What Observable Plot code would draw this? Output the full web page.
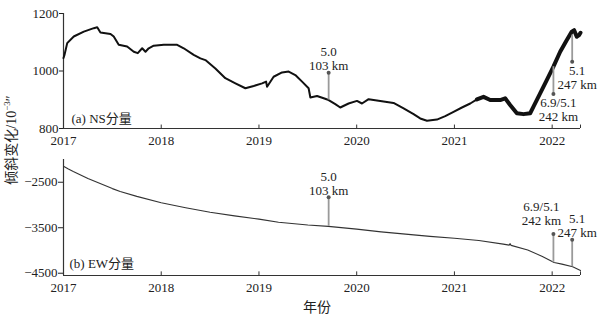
<!DOCTYPE html>
<html><head><meta charset="utf-8">
<script src="https://cdn.jsdelivr.net/npm/d3@7"></script>
<script src="https://cdn.jsdelivr.net/npm/@observablehq/plot@0.6"></script>
<style>
body{margin:0;background:#fff;}
#chart{position:relative;width:604px;height:317px;font-family:"Liberation Serif","Noto Sans CJK SC",serif;color:#222;}
#top,#bottom{position:absolute;left:0;}
#top{top:0;}
#bottom{top:145px;}
#ylab{position:absolute;left:-48px;top:131px;width:120px;height:18px;line-height:18px;text-align:center;font-size:14px;transform:rotate(-90deg);white-space:nowrap;}
#ylab sup{font-size:9px;line-height:0;vertical-align:6px;}
#xlab{position:absolute;left:287px;top:299px;width:60px;text-align:center;font-size:14px;line-height:18px;}
</style></head><body>
<div id="chart"><div id="top"></div><div id="bottom"></div>
<div id="ylab">倾斜变化/10<sup>−3</sup>″</div>
<div id="xlab">年份</div></div>
<script>
// ---- data ----
const xTicks = [2017, 2018, 2019, 2020, 2021, 2022];
const nsTicks = [800, 1000, 1200];
const ewTicks = [-2500, -3500, -4500];
const panelLabels = ["(a) NS分量", "(b) EW分量"];

const nsYear = [2017.0,2017.01,2017.038,2017.105,2017.208,2017.31,2017.345,2017.378,2017.481,2017.514,2017.565,2017.651,2017.719,2017.76,2017.805,2017.839,2017.872,2017.923,2018.026,2018.163,2018.23,2018.332,2018.401,2018.452,2018.554,2018.656,2018.759,2018.861,2018.946,2019.032,2019.073,2019.083,2019.15,2019.236,2019.304,2019.372,2019.441,2019.508,2019.526,2019.594,2019.662,2019.713,2019.781,2019.832,2019.917,2020.003,2020.054,2020.122,2020.241,2020.377,2020.48,2020.582,2020.65,2020.719,2020.821,2020.906,2020.991,2021.077,2021.162,2021.23,2021.298,2021.366,2021.468,2021.519,2021.57,2021.639,2021.707,2021.775,2021.809,2021.877,2021.946,2022.013,2022.082,2022.15,2022.201,2022.225,2022.252,2022.275,2022.29];
const nsValue = [1045,1056,1097,1120,1137,1149,1152,1134,1129,1120,1091,1085,1067,1062,1079,1067,1079,1088,1091,1091,1079,1056,1044,1038,1009,975,957,940,948,957,963,945,980,995,998,986,963,940,908,913,905,899,885,873,887,896,887,902,896,889,870,850,835,827,831,843,858,873,887,901,910,899,899,905,882,853,850,853,876,922,969,1015,1067,1108,1137,1142,1119,1125,1133];

const ewYear = [2017.0,2017.05,2017.1,2017.25,2017.5,2017.58,2017.75,2018.0,2018.25,2018.5,2018.75,2019.0,2019.2,2019.5,2019.71,2020.0,2020.25,2020.5,2020.75,2021.0,2021.25,2021.5,2021.56,2021.57,2021.58,2021.75,2021.9,2022.02,2022.1,2022.21,2022.29];
const ewValue = [-2150,-2210,-2265,-2420,-2640,-2705,-2810,-2950,-3060,-3160,-3240,-3310,-3379,-3440,-3470,-3530,-3590,-3640,-3690,-3730,-3780,-3860,-3882,-3850,-3888,-3990,-4130,-4264,-4300,-4358,-4440];

const eqYear = [2019.713, 2022.013, 2022.205];
const eqMag = ["5.0", "6.9/5.1", "5.1"];
const eqDist = ["103 km", "242 km", "247 km"];
const nsAtCurve = [899, 1015, 1125];
const nsMarker = [994, 920, 1032];
const ewAtCurve = [-3470, -4264, -4358];
const ewMarker = [-2831, -3638, -3763];

// ---- build ----
const ns = nsYear.map((t, i) => ({t, v: nsValue[i]}));
const ew = ewYear.map((t, i) => ({t, v: ewValue[i]}));
const eq = eqYear.map((t, i) => ({t, mag: eqMag[i], dist: eqDist[i], nsC: nsAtCurve[i], nsM: nsMarker[i], ewC: ewAtCurve[i], ewM: ewMarker[i]}));
const xDomain = [2017, 2022.29];
const font = '"Liberation Serif","Noto Sans CJK SC",serif';
const ink = "#222";
const stem = "#9a9a9a";
const common = {
  width: 604, marginLeft: 63, marginRight: 24,
  style: {fontFamily: font, fontSize: "13px", background: "white", color: ink, overflow: "visible"},
  x: {domain: xDomain, ticks: xTicks, tickFormat: d3.format("d"), tickSize: 0, tickPadding: 7, label: null}
};
const txt = {fontSize: 13, fill: ink, fontFamily: font, lineAnchor: "middle"};
// two-line annotation: magnitude above, distance below, relative to the marker
function ann(i, yField, dx, dyMag, dyDist) {
  const d = eq.slice(i, i + 1);
  return [
    Plot.text(d, {x: "t", y: yField, text: "mag", dx, dy: dyMag, ...txt}),
    Plot.text(d, {x: "t", y: yField, text: "dist", dx, dy: dyDist, ...txt})
  ];
}

const topPlot = Plot.plot({
  ...common, height: 145, marginTop: 13, marginBottom: 17,
  y: {domain: [800, 1200], ticks: nsTicks, tickFormat: d3.format("d"), tickSize: 4, tickPadding: 1, label: null},
  marks: [
    Plot.ruleY([800], {stroke: "#333", strokeWidth: 1.2}),
    Plot.ruleX([2017], {stroke: "#333", strokeWidth: 1.2}),
    Plot.ruleX([...xTicks.slice(1), xDomain[1]], {y1: 800, y2: 812, stroke: "#333"}),
    Plot.line(ns, {x: "t", y: "v", stroke: "#111", strokeWidth: 2}),
    Plot.line(ns.filter(d => d.t >= 2021.2), {x: "t", y: "v", stroke: "#111", strokeWidth: 4}),
    Plot.ruleX(eq, {x: "t", y1: "nsC", y2: "nsM", stroke: stem, strokeWidth: 1.8}),
    Plot.dot(eq, {x: "t", y: "nsM", r: 2, fill: "#555", stroke: "none"}),
    ...ann(0, "nsM", 0, -21, -7),
    ...ann(1, "nsM", 5, 9, 23),
    ...ann(2, "nsM", 5, 9, 23),
    Plot.text(panelLabels.slice(0, 1), {text: d => d, frameAnchor: "bottom-left", textAnchor: "start", dx: 8, dy: -10, ...txt})
  ]
});
document.getElementById("top").appendChild(topPlot);

const botPlot = Plot.plot({
  ...common, height: 172, marginTop: 14, marginBottom: 42,
  y: {domain: [-4550, -2000], ticks: ewTicks, tickFormat: d3.format("d"), tickSize: 5, tickPadding: 1, label: null},
  marks: [
    Plot.ruleY([-4550], {stroke: "#333", strokeWidth: 1.2}),
    Plot.ruleX([2017], {stroke: "#333", strokeWidth: 1.2}),
    Plot.ruleX([...xTicks.slice(1), xDomain[1]], {y1: -4550, y2: -4470, stroke: "#333"}),
    Plot.line(ew, {x: "t", y: "v", stroke: "#333", strokeWidth: 1.1}),
    Plot.ruleX(eq, {x: "t", y1: "ewC", y2: "ewM", stroke: stem, strokeWidth: 1.8}),
    Plot.dot(eq, {x: "t", y: "ewM", r: 2, fill: "#555", stroke: "none"}),
    ...ann(0, "ewM", 0, -20, -6),
    ...ann(1, "ewM", -12, -27, -13),
    ...ann(2, "ewM", 5, -21, -7),
    Plot.text(panelLabels.slice(1), {text: d => d, frameAnchor: "bottom-left", textAnchor: "start", dx: 6, dy: -12, ...txt})
  ]
});
document.getElementById("bottom").appendChild(botPlot);
</script>
</body></html>
